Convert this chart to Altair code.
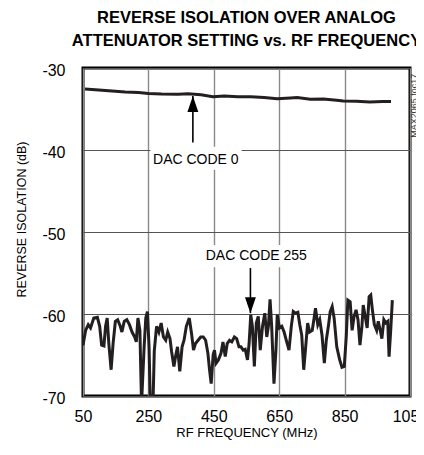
import altair as alt
import pandas as pd

FONT = "Liberation Sans, Arial, sans-serif"

# DAC CODE 0 trace (MHz, dB)
hi_freq = [56, 98, 139, 179, 220, 250, 290, 341, 371, 411, 447, 482, 523, 563,
           604, 644, 684, 705, 745, 785, 826, 846, 886, 927, 967, 992]
hi_db = [-32.56, -32.68, -32.8, -32.93, -33.0, -33.1, -33.17, -33.2, -33.13, -33.25,
         -33.5, -33.4, -33.5, -33.5, -33.6, -33.74, -33.66, -33.6, -33.8, -33.78,
         -33.94, -34.02, -34.06, -34.15, -34.1, -34.1]

# DAC CODE 255 trace (MHz, dB)
lo_freq = [50, 58, 66, 73, 83, 94, 101, 107, 114, 119, 124, 129, 136, 142, 149, 156,
           164, 169, 176, 184, 192, 200, 208, 213, 218, 224, 229, 237, 242, 247, 252,
           256, 264, 268, 275, 282, 289, 296, 303, 309, 316, 321, 328, 333, 339, 346,
           353, 359, 366, 375, 382, 388, 394, 402, 410, 418, 425, 432, 437, 442, 448,
           452, 457, 464, 472, 478, 485, 491, 498, 505, 513, 520, 527, 533, 540, 546,
           553, 558, 563, 568, 574, 580, 586, 592, 599, 606, 612, 617, 622, 627, 634,
           640, 644, 651, 658, 665, 673, 680, 687, 693, 700, 707, 713, 719, 725, 731,
           737, 743, 751, 756, 761, 768, 774, 781, 788, 794, 801, 806, 812, 818, 826,
           835, 842, 849, 855, 860, 867, 873, 879, 885, 891, 897, 903, 907, 913, 919,
           925, 930, 935, 941, 948, 953, 960, 964, 970, 976, 982, 986, 991, 996]
lo_db = [-63.8, -62.0, -61.3, -61.7, -60.5, -60.4, -61.5, -63.8, -63.9, -61.5, -60.5,
         -63.6, -66.8, -63.6, -60.9, -60.7, -61.5, -62.2, -60.9, -60.7, -61.3, -62.2,
         -62.8, -63.4, -60.5, -62.0, -71.0, -64.0, -60.5, -59.7, -64.0, -71.0, -71.0,
         -64.5, -61.5, -62.2, -61.1, -62.8, -63.2, -62.2, -63.0, -64.6, -66.4, -65.2,
         -64.0, -67.0, -64.0, -63.2, -61.5, -60.5, -62.4, -64.4, -63.6, -63.2, -62.8,
         -62.8, -63.2, -64.8, -66.8, -68.5, -65.0, -64.4, -66.0, -65.6, -64.8, -63.4,
         -65.2, -63.6, -63.2, -63.4, -62.8, -63.0, -64.0, -64.0, -64.4, -64.3, -65.6,
         -63.6, -60.1, -61.5, -66.4, -61.1, -60.3, -64.4, -61.5, -59.9, -62.8, -61.5,
         -58.2, -61.5, -68.5, -64.4, -60.1, -61.7, -61.5, -62.2, -63.4, -64.4, -61.5,
         -59.7, -59.9, -59.8, -61.3, -62.6, -66.8, -64.0, -61.1, -62.2, -62.0, -60.7,
         -59.3, -61.3, -60.7, -62.6, -66.0, -63.2, -61.3, -59.7, -59.1, -60.5, -64.0,
         -65.6, -66.5, -66.4, -62.8, -58.3, -58.5, -62.0, -60.3, -59.5, -60.7, -63.8,
         -61.5, -58.9, -60.3, -61.7, -57.9, -57.7, -59.5, -61.3, -62.0, -60.9, -62.2,
         -63.0, -60.7, -61.1, -60.9, -65.2, -62.0, -58.3]

x_ticks = [50, 250, 450, 650, 850, 1050]
y_ticks = [-70, -60, -50, -40, -30]

# annotations
labels = ["DAC CODE 0", "DAC CODE 255"]
label_f = [395, 580]
label_db = [-41.2, -52.9]
box_f1 = [256, 440]
box_f2 = [535, 720]
box_db1 = [-39.6, -51.6]
box_db2 = [-42.4, -54.3]
arrow_f = [386, 562]
arrow_tail = [-39.1, -54.4]
arrow_tip = [-33.4, -59.9]

hi = pd.DataFrame({"f": hi_freq, "db": hi_db})
lo = pd.DataFrame({"f": lo_freq, "db": lo_db})
ann = pd.DataFrame({"label": labels, "f": label_f, "db": label_db,
                    "f1": box_f1, "f2": box_f2, "b1": box_db1, "b2": box_db2,
                    "af": arrow_f, "tail": arrow_tail, "tip": arrow_tip})
side = pd.DataFrame({"t": ["MAX2065 toc17"], "f": [1061], "db": [-34.6]})

xs = alt.Scale(domain=[50, 1050], nice=False, zero=False)
ys = alt.Scale(domain=[-70, -30], nice=False, zero=False)

x_axis = alt.Axis(values=x_ticks, title="RF FREQUENCY (MHz)", ticks=False, domain=False,
                  grid=True, labelPadding=12, labelFontSize=16, titleFontSize=13,
                  titlePadding=2, labelFont=FONT, titleFont=FONT, titleFontWeight="normal",
                  labelColor="black", titleColor="black", gridColor="#8a8a8a",
                  gridWidth=1.4, labelExpr="'' + datum.value", labelFlush=False)
y_axis = alt.Axis(values=y_ticks, title="REVERSE ISOLATION (dB)", ticks=False, domain=False,
                  grid=True, labelPadding=18, labelFontSize=16, titleFontSize=12.5,
                  labelFont=FONT, titleFont=FONT, titleFontWeight="normal",
                  labelColor="black", titleColor="black", gridColor="#555555",
                  gridWidth=1.1, labelExpr="'' + datum.value", titleX=-55, titleY=151,
                  labelFlush=False, labelOffset=2)


def X(field):
    return alt.X(field, type="quantitative", scale=xs, axis=x_axis)


def Y(field):
    return alt.Y(field, type="quantitative", scale=ys, axis=y_axis)


line_color = "#231f20"

hi_line = alt.Chart(hi).mark_line(color=line_color, strokeWidth=3, clip=True).encode(
    x=X("f"), y=Y("db"))
lo_line = alt.Chart(lo).mark_line(color=line_color, strokeWidth=3, clip=True).encode(
    x=X("f"), y=Y("db"))

boxes = alt.Chart(ann).mark_rect(color="white").encode(
    x=X("f1"), x2="f2", y=Y("b1"), y2="b2")
texts = alt.Chart(ann).mark_text(font=FONT, fontSize=14, color="black",
                                 align="center", baseline="middle").encode(
    x=X("f"), y=Y("db"), text="label:N")
rules = alt.Chart(ann).mark_rule(color="black", strokeWidth=1.6).encode(
    x=X("af"), y=Y("tail"), y2="tip")
heads_up = alt.Chart(ann.iloc[[0]]).mark_point(
    shape="M0,0 L0.34,1 L-0.34,1 Z", filled=True, color="black", size=1024, opacity=1
).encode(x=X("af"), y=Y("tip"))
heads_down = alt.Chart(ann.iloc[[1]]).mark_point(
    shape="M0,0 L0.34,-1 L-0.34,-1 Z", filled=True, color="black", size=1024, opacity=1
).encode(x=X("af"), y=Y("tip"))

side_text = alt.Chart(side).mark_text(font=FONT, fontSize=9, color="#333333",
                                      angle=270, align="center", baseline="middle",
                                      clip=False).encode(
    x=X("f"), y=Y("db"), text="t:N")

chart = alt.layer(hi_line, boxes, lo_line, texts, rules, heads_up, heads_down, side_text).properties(
    width=327, height=328,
    autosize=alt.AutoSizeParams(type="none"),
    padding={"left": 75, "top": 60, "right": 6, "bottom": 46},
    background="white",
    title=alt.TitleParams(
        text=["REVERSE ISOLATION OVER ANALOG", "ATTENUATOR SETTING vs. RF FREQUENCY"],
        font=FONT, fontSize=16.5, fontWeight="bold", lineHeight=23, offset=13,
        anchor="middle", color="black",
    ),
).configure_view(stroke="black", strokeWidth=3)

chart.save("out.html", embed_options={"renderer": "svg", "actions": False})
